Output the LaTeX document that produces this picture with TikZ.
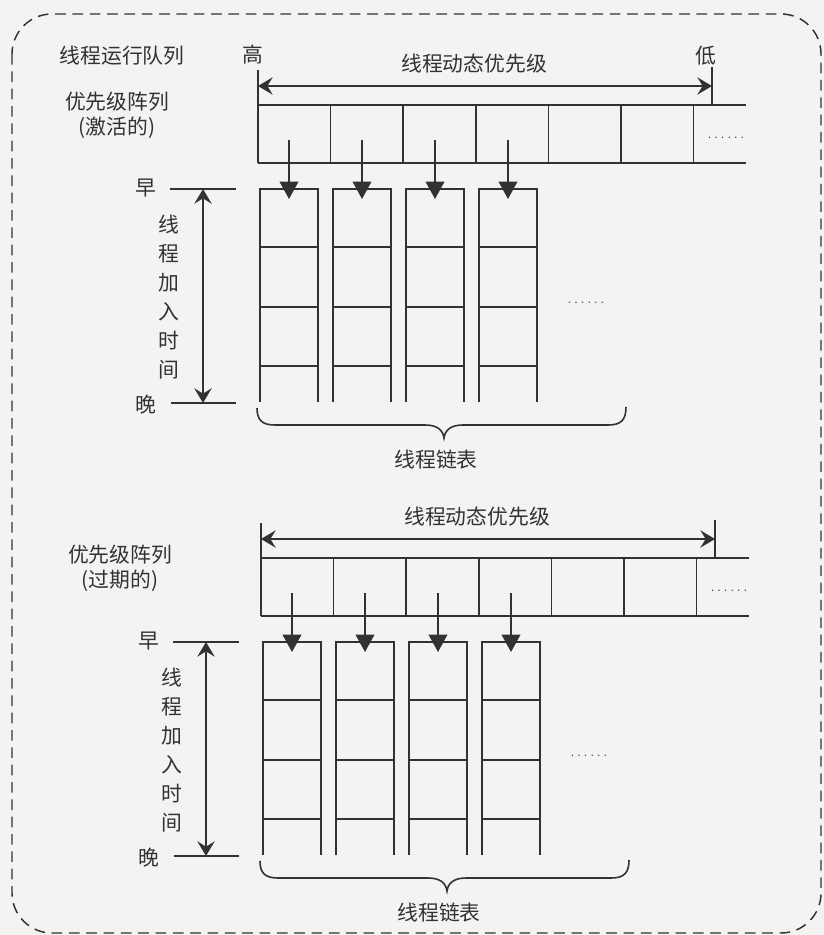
\documentclass[tikz,border=0pt]{standalone}
\usepackage{fontspec}
\newfontfamily\cjk{Noto Sans CJK SC}
\usetikzlibrary{arrows.meta}
\definecolor{ink}{RGB}{50,50,50}
\definecolor{paper}{RGB}{243,243,241}
\tikzset{
  lbl/.style={font=\cjk\fontsize{15.6}{18}\selectfont, text=ink, inner sep=0pt},
  vlbl/.style={lbl, align=center, font=\cjk\fontsize{15.6}{21.75}\selectfont},
  ln/.style={draw=ink, line width=1.2pt},
  dbl/.style={ln, {Stealth[length=11pt,width=13pt,inset=4pt]}-{Stealth[length=11pt,width=13pt,inset=4pt]}},
  downarr/.style={ln, -{Triangle[length=13pt,width=14pt]}},
  border/.style={draw=ink, line width=1.1pt, dash pattern=on 8pt off 5pt, rounded corners=30pt},
  dotrow/.style={font=\fontsize{11}{11}\selectfont, text=ink, inner sep=0pt, anchor=base},
}
\newcommand\sixdots{.\kern1.9pt.\kern1.9pt.\kern1.9pt.\kern1.9pt.\kern1.9pt.}
% #1 name prefix, #2 label in parentheses
\newcommand\prioblock[2]{%
  \node[lbl] (#1pa) at (117,102) {优先级阵列};
  \node[lbl] (#1pb) at (117,128) {#2};
  \node[lbl] (#1dyn) at (474,64) {线程动态优先级};
  % priority axis
  \coordinate (#1tl) at (258,70);
  \coordinate (#1tr) at (712,67);
  \coordinate (#1al) at (258,86);
  \coordinate (#1ar) at (712,86);
  \draw[ln] (#1tl) -- (258,105);
  \draw[ln] (#1tr) -- (712,105);
  \draw[dbl] (#1al) -- (#1ar);
  % priority array
  \draw[ln] (258,105) -- (746,105);
  \draw[ln] (258,163) -- (746,163);
  \foreach \k in {0,...,6} {\draw[ln] ({258+72.6*\k},105) -- ({258+72.6*\k},163);}
  \node[dotrow] (#1ad) at (726,138) {\sixdots};
  % thread lists
  \foreach \j in {0,...,3} {
    \pgfmathsetmacro\xx{289+73*\j}
    \coordinate (#1s\j) at (\xx,140);
    \coordinate (#1e\j) at (\xx,199);
    \draw[ln] ({\xx-29},402) -- ({\xx-29},189) -- ({\xx+29},189) -- ({\xx+29},402);
    \foreach \yy in {247,307,366} {\draw[ln] ({\xx-29},\yy) -- ({\xx+29},\yy);}
    \draw[downarr] (#1s\j) -- (#1e\j);
  }
  \node[dotrow] (#1ld) at (586,303) {\sixdots};
  % time axis
  \node[lbl] (#1early) at (146,188) {早};
  \node[lbl] (#1late) at (146,405) {晚};
  \coordinate (#1et) at (203,189);
  \coordinate (#1lt) at (203,403);
  \draw[ln] (170,189) -- (236,189);
  \draw[ln] (171,403) -- (236,403);
  \draw[dbl] (#1et) -- (#1lt);
  \node[vlbl] (#1time) at (169,297) {线\\程\\加\\入\\时\\间};
  % brace
  \draw[ln] (257,408) .. controls (257,420) and (262,425) .. (275,425) -- (425,425)
    .. controls (437,425) and (443,430) .. (444,438)
    .. controls (445,430) and (451,425) .. (463,425) -- (608,425)
    .. controls (621,425) and (626,420) .. (626,407);
  \node[lbl] (#1list) at (436,460) {线程链表};
}
\begin{document}
\begin{tikzpicture}[x=0.75pt,y=-0.75pt]
\fill[paper] (0,0) rectangle (824,935);
\useasboundingbox (0,0) rectangle (824,935);
\draw[border] (12,14) rectangle (821,933);
\node[lbl] (rq) at (122,56) {线程运行队列};
\node[lbl] (hi) at (253,55) {高};
\node[lbl] (lo) at (706,56) {低};
\begin{scope}
  \prioblock{t}{(激活的)}
\end{scope}
\begin{scope}[shift={(3,453)}]
  \prioblock{b}{(过期的)}
\end{scope}
\end{tikzpicture}
\end{document}
